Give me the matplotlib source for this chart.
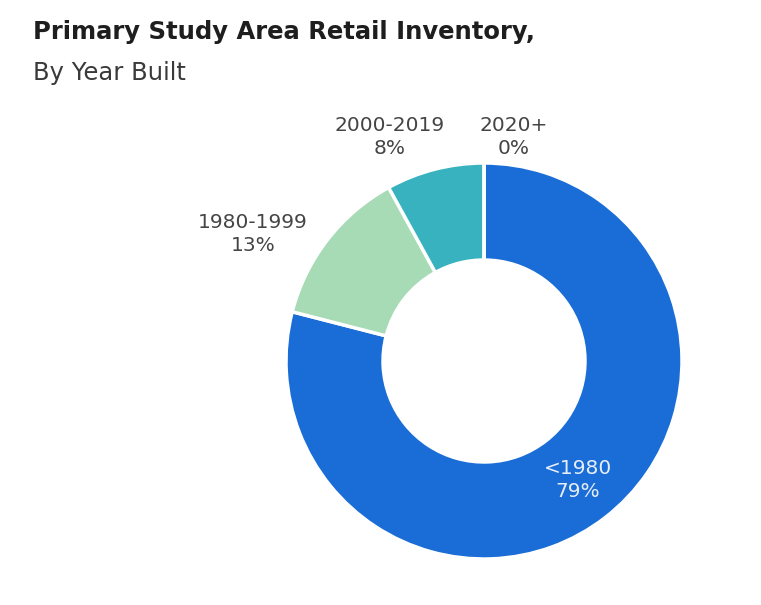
import matplotlib.pyplot as plt

categories = ["<1980", "1980-1999", "2000-2019", "2020+"]
shares = [79, 13, 8, 0]
colors = ["#1a6dd6", "#a6dbb6", "#39b2bf", "#2a8fd0"]

W, H = 761, 605
fig = plt.figure(figsize=(W / 100, H / 100), dpi=100)
ax = fig.add_axes([0, 0, 1, 1])

cx, cy, r = 484, H - 361, 198
ax.pie(shares, colors=colors, startangle=90, counterclock=False,
       center=(cx, cy), radius=r, frame=True,
       wedgeprops=dict(width=r * 0.49, edgecolor="white", linewidth=2.5))
ax.set_xlim(0, W)
ax.set_ylim(0, H)
ax.set_aspect("equal")
ax.axis("off")

# label positions in pixel space (top-left origin)
label_pos = {
    "<1980": (578, 480),
    "1980-1999": (253, 234),
    "2000-2019": (390, 137),
    "2020+": (514, 137),
}
for cat, val in zip(categories, shares):
    x, y = label_pos[cat]
    col = "#e6eef8" if cat == "<1980" else "#454545"
    ax.text(x, H - y, f"{cat}\n{val}%", ha="center", va="center",
            fontsize=14.5, color=col, linespacing=1.25)

fig.text(33 / W, 1 - 32 / H, "Primary Study Area Retail Inventory,",
         fontsize=17.5, fontweight="bold", color="#1e1e1e", va="center")
fig.text(33 / W, 1 - 73 / H, "By Year Built", fontsize=17.5,
         color="#3a3a3a", va="center")

fig.savefig("out.png", dpi=100, facecolor="white")
